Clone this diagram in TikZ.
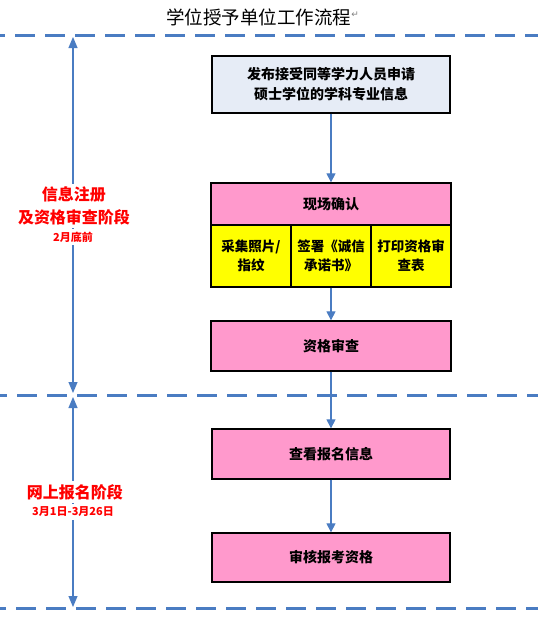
\documentclass[tikz,border=0pt]{standalone}
\usepackage{fontspec}
\newfontfamily\cjk{Noto Sans CJK SC}
\newfontfamily\dejavu{DejaVu Sans}
\usetikzlibrary{arrows.meta}
\definecolor{lineblue}{HTML}{4A7CC2}
\definecolor{boxpink}{HTML}{FF99CC}
\definecolor{boxyellow}{HTML}{FFFF00}
\definecolor{boxblue}{HTML}{E6ECF6}
\tikzset{
  phaseline/.style={draw=lineblue, line width=3pt, dash pattern=on 20pt off 10pt},
  flowarrow/.style={draw=lineblue, line width=1.1pt, -{Triangle[width=9pt,length=9pt]}},
  spanarrow/.style={draw=lineblue, line width=1.1pt, {Triangle[width=9pt,length=11pt]}-{Triangle[width=9pt,length=11pt]}},
  box/.style={draw=black, line width=1.3pt, rectangle, inner sep=0pt, align=center,
     font=\cjk\bfseries\fontsize{14}{20}\selectfont},
  pinkbox/.style={box, fill=boxpink, minimum width=240pt},
  yellowbox/.style={box, fill=boxyellow, minimum width=80pt, minimum height=62pt,
     font=\cjk\bfseries\fontsize{13.5}{19}\selectfont},
  phaselabel/.style={text=red, align=center, fill=white, inner xsep=1pt, inner ysep=3pt},
}
\begin{document}
\begin{tikzpicture}[x=1pt,y=-1pt]
\useasboundingbox (0,0) rectangle (538,622);
% title
\node[inner sep=0pt, font=\cjk\fontsize{18.5}{20}\selectfont] (title) at (258.5,17) {学位授予单位工作流程};
\node[inner sep=0pt, anchor=west, text=gray, font=\dejavu\fontsize{9}{10}\selectfont] (pmark) at ([yshift=2pt]title.east) {↵};
% phase separators
\coordinate (l1a) at (0,35);  \coordinate (l1b) at (538,35);
\coordinate (l2a) at (0,395); \coordinate (l2b) at (538,395);
\coordinate (l3a) at (0,608); \coordinate (l3b) at (538,608);
\draw[phaseline, dash phase=15pt] (l1a) -- (l1b);
\draw[phaseline, dash phase=13pt] (l2a) -- (l2b);
\draw[phaseline, dash phase=14pt] (l3a) -- (l3b);
% span arrows
\coordinate (s1a) at (73,37);  \coordinate (s1b) at (73,393);
\coordinate (s2a) at (73,397); \coordinate (s2b) at (73,607);
\draw[spanarrow] (s1a) -- (s1b);
\draw[spanarrow] (s2a) -- (s2b);
% phase labels
\node[phaselabel, font=\cjk\bfseries\fontsize{16}{23}\selectfont] (p1) at (74,206) {信息注册\\及资格审查阶段};
\node[phaselabel, font=\cjk\bfseries\fontsize{11}{12}\selectfont] (p1d) at (73,237) {2月底前};
\node[phaselabel, font=\cjk\bfseries\fontsize{16}{20}\selectfont] (p2) at (75,492) {网上报名阶段};
\node[phaselabel, font=\cjk\bfseries\fontsize{11}{12}\selectfont] (p2d) at (73,512) {3月1日-3月26日};
% boxes
\node[box, fill=boxblue, minimum width=238pt, minimum height=57pt] (b1) at (331,84.5) {发布接受同等学力人员申请\\硕士学位的学科专业信息};
\node[pinkbox, minimum height=42pt] (b2) at (331,204) {现场确认};
\node[yellowbox] (y1) at (251,256) {采集照片/\\指纹};
\node[yellowbox] (y2) at (331,256) {签署《诚信\\承诺书》};
\node[yellowbox] (y3) at (411,256) {打印资格审\\查表};
\node[pinkbox, minimum height=50pt] (b3) at (331,346) {资格审查};
\node[pinkbox, minimum width=238pt, minimum height=50pt] (b4) at (331,454) {查看报名信息};
\node[pinkbox, minimum width=238pt, minimum height=49pt] (b5) at (331,557.5) {审核报考资格};
% connectors
\draw[flowarrow] (b1.south) -- (b2.north);
\draw[flowarrow] (y2.south) -- (b3.north);
\draw[flowarrow] (b3.south) -- (b4.north);
\draw[flowarrow] (b4.south) -- (b5.north);
\end{tikzpicture}
\end{document}
